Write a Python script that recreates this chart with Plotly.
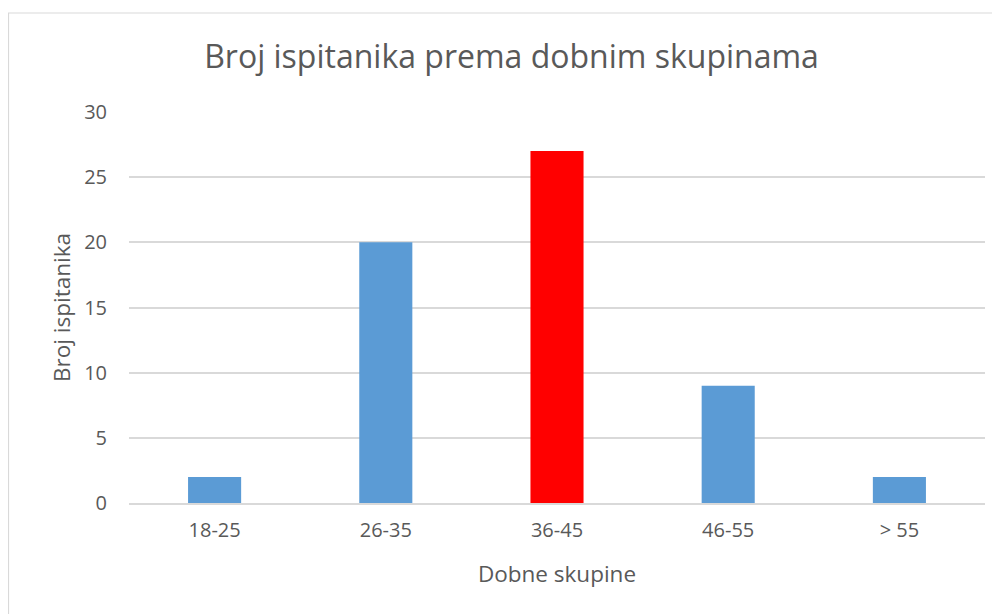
import plotly.graph_objects as go

categories = ["18-25", "26-35", "36-45", "46-55", "> 55"]
values = [2, 20, 27, 9, 2]
colors = ["#5B9BD5", "#5B9BD5", "#FF0000", "#5B9BD5", "#5B9BD5"]
y_ticks = [0, 5, 10, 15, 20, 25, 30]

# page has 8px body margin, so the figure is 992x606
W, H = 992, 606
L, R, T, B = 121, 15, 104, 111
pw = W - L - R
ph = H - T - B

fig = go.Figure(go.Bar(x=categories, y=values, marker=dict(color=colors, line=dict(width=0)), width=0.31))

FONT = "Open Sans"
fig.update_layout(
    width=W, height=H,
    margin=dict(l=L, r=R, t=T, b=B, pad=0),
    paper_bgcolor="white", plot_bgcolor="white",
    font=dict(family=FONT, color="#595959"),
    title=dict(text="Broj ispitanika prema dobnim skupinama", x=503.5 / W, xanchor="center",
               y=1 - 49 / H, yanchor="middle", font=dict(size=32, color="#595959")),
    showlegend=False,
)
fig.update_xaxes(showgrid=False, showline=True, linecolor="#D9D9D9", linewidth=1.5,
                 tickfont=dict(size=20), ticks="", ticklabelstandoff=8,
                 title=dict(text="Dobne skupine", font=dict(size=22.5), standoff=24))
fig.update_yaxes(range=[0, 30], tickvals=y_ticks, showgrid=True, gridcolor="#D9D9D9", gridwidth=1.5,
                 zeroline=False, tickfont=dict(size=20), ticks="", ticklabelstandoff=21,
                 title=dict(text="Broj ispitanika", font=dict(size=22.5), standoff=7))

fig.add_shape(type="rect", xref="paper", yref="paper",
              x0=(0.5 - L) / pw, x1=(W + 10 - L) / pw,
              y0=-(H + 10 - T - ph) / ph, y1=(T - 5) / ph + 1,
              line=dict(color="#D9D9D9", width=1.2), fillcolor="rgba(0,0,0,0)", layer="below")

fig.write_html("out.html")
